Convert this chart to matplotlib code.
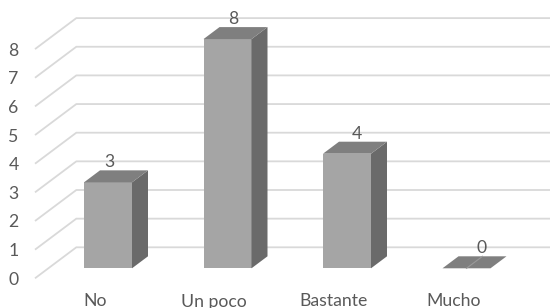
import matplotlib
matplotlib.use("Agg")
import matplotlib.pyplot as plt

categories = ["No", "Un poco", "Bastante", "Mucho"]
values = [3, 8, 4, 0]
yticks = [0, 1, 2, 3, 4, 5, 6, 7, 8]

plt.rcParams['font.family'] = ['Lato', 'DejaVu Sans']

W, H = 550, 308
fig = plt.figure(figsize=(W / 100, H / 100), dpi=100)
ax = fig.add_axes([0, 0, 1, 1])
ax.set_axis_off()

# pixel geometry -> data units
cat_px = 119.5          # pixels per category
val_px = 28.65          # pixels per unit value
x0_px, y0_px = 108.0, 268.3  # front centre / base of first bar
ax.set_xlim(-x0_px / cat_px, (W - x0_px) / cat_px)
ax.set_ylim(-(H - y0_px) / val_px, y0_px / val_px)

# depth vector (one bar depth) in data units
ddx, ddy = 16.0 / cat_px, 12.0 / val_px
front_d = -0.833   # floor front edge (in bar depths)
back_d = 1.75      # back wall (in bar depths)
left_x = (35.0 - x0_px) / cat_px
right_x = (W + 5 - x0_px) / cat_px

grid_c = "#D9D9D9"
text_c = "#595959"
front_c = "#A5A5A5"
top_c = "#7F7F7F"
side_c = "#6A6A6A"

for v in yticks:
    xs = [left_x, left_x + (back_d - front_d) * ddx, right_x]
    ys = [v + front_d * ddy, v + back_d * ddy, v + back_d * ddy]
    ax.plot(xs, ys, color=grid_c, lw=1.3, solid_capstyle='butt', zorder=1)
    ax.text((18.5 - x0_px) / cat_px, v + front_d * ddy - 6.5 / val_px, str(v),
            ha='right', va='baseline', fontsize=12.7, color=text_c)

hw = 24.0 / cat_px  # half bar width
for i, (c, v) in enumerate(zip(categories, values)):
    xl, xr = i - hw, i + hw
    if v > 0:
        ax.fill([xl, xr, xr, xl], [0, 0, v, v], color=front_c, lw=0, zorder=3)
        ax.fill([xr, xr + ddx, xr + ddx, xr], [0, ddy, v + ddy, v],
                color=side_c, lw=0, zorder=3)
    ax.fill([xl, xr, xr + ddx, xl + ddx], [v, v, v + ddy, v + ddy],
            color=top_c, lw=0, zorder=3)
    if v == 0:
        ax.plot([i, i + ddx], [v, v + ddy], color="#9A9A9A", lw=0.8, zorder=4)
    ax.text(i + (8.0 + 4.5 * (i - 1.5)) / cat_px, v + ddy + 3.0 / val_px, str(v),
            ha='center', va='baseline', fontsize=12.7, color=text_c, zorder=5)
    ax.text(i + front_d * ddx, -(306.5 - y0_px) / val_px, c,
            ha='center', va='baseline', fontsize=12.7, color=text_c)

fig.savefig("out.png", dpi=100)
